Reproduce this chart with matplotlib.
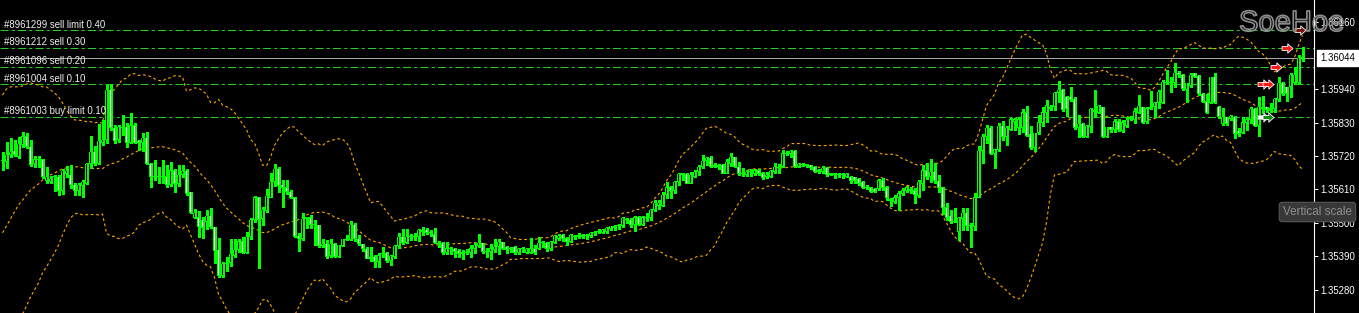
import numpy as np
import pandas as pd
import matplotlib
matplotlib.use("Agg")
import matplotlib.pyplot as plt
from matplotlib.patches import Rectangle
from matplotlib.collections import PatchCollection
from matplotlib.path import Path
import matplotlib.patheffects as pe
import matplotlib.transforms as mtransforms

plt.rcParams['font.family'] = ['Liberation Sans', 'DejaVu Sans']
plt.rcParams['lines.scale_dashes'] = False

# ---------------- data (candles) ----------------
opens = [
1.35704,1.35701,1.35724,1.35737,1.35720,1.35757,1.35786,1.35750,1.35694,1.35707,
1.35710,1.35638,1.35635,1.35651,1.35651,1.35605,1.35661,1.35658,1.35625,1.35608,
1.35622,1.35631,1.35697,1.35734,1.35697,1.35766,1.35773,1.35938,1.35813,1.35773,
1.35816,1.35816,1.35763,1.35822,1.35770,1.35763,1.35780,1.35694,1.35654,1.35651,
1.35654,1.35654,1.35625,1.35674,1.35628,1.35658,1.35671,1.35602,1.35519,1.35519,
1.35510,1.35506,1.35523,1.35487,1.35411,1.35328,1.35365,1.35368,1.35394,1.35411,
1.35440,1.35401,1.35454,1.35510,1.35585,1.35513,1.35539,1.35585,1.35635,1.35678,
1.35625,1.35618,1.35602,1.35585,1.35457,1.35447,1.35513,1.35519,1.35496,1.35493,
1.35424,1.35431,1.35391,1.35431,1.35388,1.35424,1.35444,1.35444,1.35493,1.35447,
1.35431,1.35414,1.35388,1.35388,1.35371,1.35398,1.35401,1.35375,1.35388,1.35424,
1.35454,1.35434,1.35454,1.35454,1.35454,1.35473,1.35477,1.35467,1.35463,1.35434,
1.35434,1.35401,1.35417,1.35414,1.35408,1.35398,1.35401,1.35401,1.35414,1.35424,
1.35434,1.35408,1.35404,1.35411,1.35421,1.35437,1.35421,1.35414,1.35421,1.35401,
1.35414,1.35401,1.35401,1.35414,1.35417,1.35434,1.35434,1.35414,1.35434,1.35450,
1.35460,1.35450,1.35440,1.35454,1.35454,1.35454,1.35457,1.35457,1.35467,1.35470,
1.35467,1.35473,1.35480,1.35487,1.35490,1.35490,1.35510,1.35510,1.35493,1.35519,
1.35493,1.35516,1.35516,1.35543,1.35556,1.35556,1.35592,1.35618,1.35608,1.35635,
1.35658,1.35661,1.35631,1.35654,1.35668,1.35684,1.35704,1.35714,1.35687,1.35687,
1.35691,1.35664,1.35697,1.35717,1.35684,1.35664,1.35658,1.35668,1.35664,1.35674,
1.35664,1.35651,1.35651,1.35668,1.35681,1.35684,1.35727,1.35727,1.35737,1.35687,
1.35691,1.35691,1.35691,1.35684,1.35671,1.35668,1.35681,1.35661,1.35661,1.35658,
1.35658,1.35651,1.35651,1.35651,1.35645,1.35635,1.35618,1.35618,1.35612,1.35612,
1.35641,1.35618,1.35575,1.35569,1.35585,1.35595,1.35605,1.35608,1.35608,1.35589,
1.35631,1.35674,1.35651,1.35668,1.35638,1.35618,1.35552,1.35523,1.35503,1.35473,
1.35513,1.35533,1.35490,1.35487,1.35585,1.35737,1.35783,1.35813,1.35730,1.35740,
1.35819,1.35783,1.35809,1.35835,1.35813,1.35813,1.35865,1.35793,1.35747,1.35796,
1.35829,1.35862,1.35878,1.35882,1.35928,1.35938,1.35915,1.35915,1.35908,1.35813,
1.35826,1.35783,1.35816,1.35868,1.35865,1.35882,1.35783,1.35816,1.35806,1.35835,
1.35803,1.35822,1.35845,1.35839,1.35865,1.35882,1.35835,1.35878,1.35882,1.35895,
1.35895,1.35961,1.35961,1.35961,1.35994,1.35987,1.35938,1.35954,1.35994,1.35984,
1.35925,1.35901,1.35898,1.35981,1.35882,1.35826,1.35849,1.35845,1.35849,1.35803,
1.35799,1.35829,1.35839,1.35875,1.35822,1.35878,1.35882,1.35872,1.35878,1.35905,
1.35961,1.35948,1.35948,1.35961,1.35961,1.36043]
highs = [
1.35734,1.35766,1.35780,1.35773,1.35783,1.35799,1.35796,1.35773,1.35720,1.35720,
1.35710,1.35684,1.35654,1.35658,1.35658,1.35678,1.35687,1.35691,1.35631,1.35631,
1.35641,1.35697,1.35786,1.35753,1.35826,1.35839,1.35954,1.35957,1.35822,1.35822,
1.35855,1.35829,1.35862,1.35829,1.35773,1.35796,1.35799,1.35697,1.35707,1.35684,
1.35707,1.35691,1.35701,1.35678,1.35691,1.35691,1.35678,1.35602,1.35546,1.35539,
1.35519,1.35543,1.35549,1.35487,1.35450,1.35371,1.35388,1.35447,1.35447,1.35447,
1.35454,1.35470,1.35516,1.35589,1.35585,1.35552,1.35612,1.35664,1.35694,1.35684,
1.35641,1.35641,1.35608,1.35585,1.35467,1.35533,1.35519,1.35526,1.35510,1.35493,
1.35447,1.35444,1.35447,1.35434,1.35427,1.35447,1.35460,1.35506,1.35500,1.35460,
1.35431,1.35421,1.35421,1.35394,1.35401,1.35421,1.35404,1.35394,1.35427,1.35467,
1.35480,1.35480,1.35463,1.35467,1.35480,1.35487,1.35483,1.35477,1.35483,1.35440,
1.35437,1.35437,1.35421,1.35417,1.35414,1.35411,1.35414,1.35427,1.35434,1.35463,
1.35434,1.35417,1.35431,1.35447,1.35447,1.35437,1.35424,1.35421,1.35424,1.35417,
1.35421,1.35417,1.35450,1.35427,1.35454,1.35440,1.35437,1.35440,1.35460,1.35463,
1.35463,1.35454,1.35463,1.35460,1.35467,1.35463,1.35463,1.35470,1.35473,1.35480,
1.35480,1.35487,1.35490,1.35493,1.35496,1.35519,1.35516,1.35516,1.35523,1.35523,
1.35523,1.35533,1.35546,1.35575,1.35575,1.35602,1.35635,1.35622,1.35638,1.35664,
1.35664,1.35664,1.35668,1.35674,1.35691,1.35724,1.35717,1.35720,1.35697,1.35694,
1.35694,1.35710,1.35730,1.35717,1.35701,1.35681,1.35674,1.35678,1.35678,1.35678,
1.35668,1.35668,1.35674,1.35697,1.35694,1.35740,1.35737,1.35740,1.35740,1.35697,
1.35697,1.35694,1.35691,1.35687,1.35678,1.35687,1.35684,1.35664,1.35664,1.35664,
1.35664,1.35664,1.35654,1.35651,1.35648,1.35638,1.35625,1.35618,1.35615,1.35645,
1.35648,1.35622,1.35582,1.35592,1.35605,1.35615,1.35622,1.35618,1.35615,1.35641,
1.35691,1.35697,1.35710,1.35697,1.35658,1.35618,1.35566,1.35543,1.35549,1.35519,
1.35549,1.35549,1.35500,1.35598,1.35753,1.35793,1.35822,1.35819,1.35743,1.35829,
1.35835,1.35819,1.35845,1.35845,1.35849,1.35875,1.35885,1.35819,1.35796,1.35855,
1.35882,1.35905,1.35888,1.35931,1.35967,1.35941,1.35918,1.35948,1.35915,1.35855,
1.35829,1.35822,1.35878,1.35938,1.35888,1.35882,1.35816,1.35816,1.35842,1.35842,
1.35839,1.35849,1.35852,1.35878,1.35921,1.35882,1.35882,1.35934,1.35898,1.35938,
1.35971,1.36004,1.35981,1.36027,1.36000,1.35990,1.35961,1.35994,1.35994,1.35987,
1.35928,1.35925,1.35981,1.35994,1.35885,1.35878,1.35849,1.35855,1.35852,1.35813,
1.35849,1.35845,1.35882,1.35878,1.35915,1.35918,1.35882,1.35895,1.35911,1.35981,
1.35964,1.35948,1.35994,1.36014,1.36053,1.36079]
lows = [
1.35674,1.35681,1.35717,1.35720,1.35714,1.35750,1.35747,1.35687,1.35684,1.35684,
1.35648,1.35631,1.35631,1.35605,1.35592,1.35595,1.35651,1.35615,1.35592,1.35592,
1.35585,1.35628,1.35681,1.35691,1.35694,1.35757,1.35763,1.35806,1.35763,1.35766,
1.35789,1.35750,1.35763,1.35763,1.35740,1.35737,1.35694,1.35618,1.35641,1.35631,
1.35631,1.35618,1.35622,1.35602,1.35622,1.35651,1.35592,1.35533,1.35516,1.35454,
1.35450,1.35480,1.35483,1.35368,1.35322,1.35322,1.35342,1.35358,1.35388,1.35404,
1.35401,1.35401,1.35447,1.35503,1.35352,1.35493,1.35536,1.35585,1.35622,1.35602,
1.35552,1.35595,1.35582,1.35454,1.35408,1.35444,1.35483,1.35483,1.35427,1.35421,
1.35421,1.35384,1.35388,1.35388,1.35388,1.35424,1.35444,1.35444,1.35440,1.35427,
1.35408,1.35384,1.35375,1.35355,1.35355,1.35388,1.35371,1.35361,1.35384,1.35417,
1.35431,1.35434,1.35444,1.35444,1.35440,1.35460,1.35463,1.35457,1.35434,1.35421,
1.35398,1.35398,1.35398,1.35388,1.35388,1.35381,1.35398,1.35388,1.35401,1.35421,
1.35401,1.35388,1.35381,1.35404,1.35398,1.35414,1.35401,1.35404,1.35398,1.35398,
1.35404,1.35401,1.35401,1.35398,1.35414,1.35421,1.35408,1.35411,1.35434,1.35444,
1.35440,1.35427,1.35437,1.35447,1.35450,1.35450,1.35447,1.35454,1.35460,1.35467,
1.35467,1.35467,1.35477,1.35477,1.35480,1.35487,1.35500,1.35487,1.35473,1.35493,
1.35493,1.35506,1.35510,1.35539,1.35546,1.35556,1.35582,1.35582,1.35598,1.35625,
1.35641,1.35631,1.35631,1.35651,1.35658,1.35681,1.35691,1.35684,1.35684,1.35678,
1.35664,1.35664,1.35687,1.35684,1.35658,1.35654,1.35654,1.35654,1.35658,1.35658,
1.35645,1.35648,1.35651,1.35664,1.35664,1.35684,1.35724,1.35717,1.35684,1.35684,
1.35687,1.35684,1.35678,1.35668,1.35664,1.35664,1.35654,1.35658,1.35648,1.35651,
1.35648,1.35651,1.35631,1.35631,1.35625,1.35615,1.35612,1.35602,1.35602,1.35608,
1.35608,1.35575,1.35556,1.35566,1.35543,1.35592,1.35602,1.35598,1.35566,1.35585,
1.35608,1.35645,1.35635,1.35631,1.35602,1.35529,1.35510,1.35500,1.35503,1.35444,
1.35477,1.35477,1.35421,1.35477,1.35585,1.35697,1.35763,1.35727,1.35681,1.35737,
1.35773,1.35757,1.35806,1.35806,1.35793,1.35799,1.35786,1.35743,1.35737,1.35793,
1.35819,1.35832,1.35872,1.35872,1.35898,1.35868,1.35852,1.35901,1.35809,1.35783,
1.35783,1.35783,1.35799,1.35849,1.35862,1.35783,1.35783,1.35799,1.35799,1.35803,
1.35799,1.35816,1.35839,1.35829,1.35862,1.35829,1.35829,1.35875,1.35849,1.35878,
1.35895,1.35958,1.35931,1.35948,1.35981,1.35938,1.35898,1.35948,1.35981,1.35921,
1.35898,1.35862,1.35895,1.35895,1.35845,1.35822,1.35822,1.35839,1.35780,1.35786,
1.35796,1.35806,1.35829,1.35819,1.35786,1.35862,1.35865,1.35865,1.35865,1.35901,
1.35921,1.35901,1.35915,1.35958,1.35958,1.36033]
closes = [
1.35707,1.35724,1.35734,1.35724,1.35760,1.35786,1.35750,1.35691,1.35710,1.35710,
1.35651,1.35651,1.35645,1.35654,1.35605,1.35671,1.35671,1.35625,1.35608,1.35625,
1.35635,1.35694,1.35734,1.35697,1.35770,1.35773,1.35938,1.35813,1.35770,1.35816,
1.35813,1.35766,1.35822,1.35766,1.35763,1.35780,1.35697,1.35651,1.35651,1.35654,
1.35651,1.35625,1.35674,1.35628,1.35658,1.35671,1.35598,1.35533,1.35533,1.35487,
1.35483,1.35523,1.35487,1.35408,1.35328,1.35365,1.35368,1.35398,1.35411,1.35440,
1.35401,1.35454,1.35510,1.35585,1.35510,1.35543,1.35589,1.35635,1.35678,1.35622,
1.35618,1.35602,1.35585,1.35454,1.35447,1.35513,1.35519,1.35496,1.35493,1.35424,
1.35431,1.35388,1.35431,1.35388,1.35427,1.35447,1.35447,1.35493,1.35447,1.35431,
1.35414,1.35384,1.35384,1.35371,1.35394,1.35401,1.35375,1.35391,1.35424,1.35454,
1.35434,1.35454,1.35454,1.35457,1.35477,1.35477,1.35467,1.35470,1.35434,1.35431,
1.35401,1.35417,1.35414,1.35404,1.35398,1.35404,1.35401,1.35417,1.35427,1.35434,
1.35404,1.35404,1.35417,1.35421,1.35437,1.35417,1.35411,1.35417,1.35401,1.35414,
1.35417,1.35414,1.35417,1.35401,1.35434,1.35437,1.35414,1.35437,1.35457,1.35457,
1.35447,1.35437,1.35460,1.35457,1.35460,1.35460,1.35460,1.35467,1.35470,1.35473,
1.35477,1.35483,1.35490,1.35486,1.35493,1.35516,1.35513,1.35493,1.35519,1.35493,
1.35519,1.35519,1.35543,1.35566,1.35566,1.35592,1.35618,1.35608,1.35635,1.35661,
1.35664,1.35631,1.35658,1.35668,1.35684,1.35704,1.35714,1.35687,1.35691,1.35691,
1.35664,1.35701,1.35717,1.35684,1.35661,1.35661,1.35668,1.35671,1.35674,1.35661,
1.35648,1.35658,1.35671,1.35684,1.35684,1.35730,1.35730,1.35737,1.35684,1.35694,
1.35694,1.35690,1.35681,1.35668,1.35670,1.35681,1.35658,1.35660,1.35660,1.35661,
1.35661,1.35661,1.35641,1.35641,1.35631,1.35618,1.35615,1.35602,1.35602,1.35641,
1.35615,1.35582,1.35579,1.35585,1.35598,1.35608,1.35618,1.35612,1.35592,1.35635,
1.35674,1.35651,1.35668,1.35638,1.35618,1.35549,1.35519,1.35503,1.35506,1.35516,
1.35533,1.35490,1.35493,1.35585,1.35737,1.35783,1.35813,1.35730,1.35743,1.35819,
1.35783,1.35813,1.35842,1.35842,1.35842,1.35865,1.35789,1.35747,1.35796,1.35832,
1.35865,1.35888,1.35882,1.35928,1.35938,1.35872,1.35875,1.35905,1.35813,1.35826,
1.35786,1.35819,1.35875,1.35872,1.35885,1.35783,1.35816,1.35806,1.35835,1.35806,
1.35832,1.35839,1.35849,1.35868,1.35885,1.35832,1.35878,1.35882,1.35895,1.35931,
1.35965,1.35965,1.35965,1.35994,1.35987,1.35944,1.35961,1.35987,1.35981,1.35925,
1.35901,1.35865,1.35981,1.35898,1.35849,1.35849,1.35826,1.35852,1.35793,1.35793,
1.35832,1.35842,1.35875,1.35822,1.35882,1.35882,1.35872,1.35878,1.35908,1.35961,
1.35925,1.35925,1.35987,1.35987,1.36043,1.36044]

# Bollinger band values on the first bars (their 20-bar history lies left of the chart)
bb_upper_start = [1.35921,1.35941,1.35948,1.35948,1.35948,1.35951,1.35957,1.35961,1.35957,1.35954,
                  1.35948,1.35948,1.35938,1.35928,1.35915,1.35895,1.35872,1.35852,1.35839]
bb_mid_start   = [1.35467,1.35490,1.35513,1.35536,1.35559,1.35575,1.35592,1.35608,1.35618,1.35628,
                  1.35641,1.35651,1.35658,1.35664,1.35671,1.35678,1.35681,1.35684,1.35684]
bb_lower_start = [1.35012,1.35039,1.35078,1.35124,1.35170,1.35200,1.35226,1.35256,1.35279,1.35302,
                  1.35335,1.35355,1.35378,1.35401,1.35427,1.35460,1.35490,1.35516,1.35529]
bb_period = 20
bb_dev = 3.0

price_ticks = [1.35280, 1.35390, 1.35500, 1.35610, 1.35720, 1.35830, 1.35940, 1.36160]
current_price = 1.36044

order_labels = ["#8961299 sell limit 0.40", "#8961212 sell 0.30", "#8961096 sell 0.20",
                "#8961004 sell 0.10", "#8961003 buy limit 0.10"]
order_prices = [1.36134, 1.36075, 1.36014, 1.35956, 1.35849]

arrow_bars   = [324.4, 321.2, 318.4, 315.0, 316.4, 315.0, 316.4]
arrow_prices = [1.36134, 1.36075, 1.36014, 1.35956, 1.35956, 1.35849, 1.35849]
arrow_colors = ['#7a1010', '#ff1a1a', '#ff1a1a', '#ff1a1a', '#ff1a1a', '#ffffff', '#0a8a0a']

# ---------------- figure ----------------
W, H = 1359, 313
fig = plt.figure(figsize=(W / 100, H / 100), dpi=100)
fig.patch.set_facecolor('black')
plot_w = 1314
ax = fig.add_axes([0, 0, plot_w / W, 1])
ax.set_facecolor('black')
PX = 0.25                       # one pixel in bar units (4 px per bar)
ax.set_xlim(-2.5 * PX, (plot_w - 2.5) * PX)
y0, y1 = 1.35203, 1.36234
ax.set_ylim(y0, y1)
PY = (y1 - y0) / H              # one pixel in price units

for s in ['left', 'top', 'bottom']:
    ax.spines[s].set_visible(False)
ax.spines['right'].set_color('white')
ax.spines['right'].set_linewidth(0.8)
ax.set_xticks([])
ax.yaxis.tick_right()
ax.set_yticks(price_ticks)
ax.set_yticklabels([f"{p:.5f}" for p in price_ticks])
ax.tick_params(axis='y', colors='white', labelcolor='white', length=3, width=0.75,
               pad=1.6, labelsize=6.9)

LIME = '#00ff00'
n = len(closes)
x = np.arange(n)
o = np.array(opens); h = np.array(highs); l = np.array(lows); c = np.array(closes)

# Bollinger bands (20, 3) from the closes
cs = pd.Series(c)
mid = cs.rolling(bb_period).mean().to_numpy()
sd = cs.rolling(bb_period).std(ddof=0).to_numpy()
upper = mid + bb_dev * sd
lower = mid - bb_dev * sd
k0 = len(bb_mid_start)
upper[:k0] = bb_upper_start
mid[:k0] = bb_mid_start
lower[:k0] = bb_lower_start
for band in (upper, mid, lower):
    ax.plot(x, band, color='#ffa500', lw=0.8, dashes=(2.0, 1.9), zorder=2)

# order lines and bid line (snapped to whole pixels)
for p in order_prices:
    ax.axhline(p, color='#22d022', lw=0.75, dashes=(5.8, 2.3, 2.2, 2.3), zorder=1,
               snap=True)
ax.axhline(current_price, color='#a8a8a8', lw=0.72, zorder=1, snap=True)

# candles: wick, 3-px green body, 1-px inner fill
ax.vlines(x, l, h, color=LIME, lw=0.75, zorder=3, antialiased=False)
outer, inner, inner_col = [], [], []
for i in range(n):
    bottom = min(o[i], c[i]); top = max(o[i], c[i])
    hgt = max(top - bottom, PY)
    outer.append(Rectangle((i - 1.5 * PX, bottom - 0.5 * PY), 3 * PX, hgt + 0.5 * PY))
    if top - bottom > 2 * PY:
        inner.append(Rectangle((i - 0.5 * PX, bottom + 0.5 * PY), PX, top - bottom - PY))
        inner_col.append('black' if c[i] > o[i] else 'white')
ax.add_collection(PatchCollection(outer, facecolor=LIME, edgecolor='none', zorder=4,
                                  antialiased=False))
ax.add_collection(PatchCollection(inner, facecolor=inner_col, edgecolor='none', zorder=5,
                                  antialiased=False))

# order labels
tr = mtransforms.blended_transform_factory(ax.transAxes, ax.transData)
tr_off = mtransforms.offset_copy(tr, fig=fig, x=0, y=2.0, units='points')
for lab, p in zip(order_labels, order_prices):
    ax.text(4 / plot_w, p, lab, transform=tr_off, color='#f0f0f0', fontsize=6.9,
            va='baseline', ha='left', zorder=6)

# trade arrows
arrow_path = Path([(-1, -0.35), (0.05, -0.35), (0.05, -0.85), (1, 0), (0.05, 0.85),
                   (0.05, 0.35), (-1, 0.35), (-1, -0.35)],
                  [Path.MOVETO] + [Path.LINETO] * 6 + [Path.CLOSEPOLY])
for xb, pb, col in zip(arrow_bars, arrow_prices, arrow_colors):
    ec = 'white' if col != '#ffffff' else '#bbbbbb'
    ax.scatter([xb], [pb], marker=arrow_path, s=62, c=col, edgecolors=ec,
               linewidths=0.6, zorder=7)

# current price box on the axis
ydisp = ax.transData.transform((0, current_price))[1]
fig.text(1320 / W, ydisp / H, f"{current_price:.5f}", color='black', fontsize=6.9,
         va='center', ha='left',
         bbox=dict(boxstyle='square,pad=0.3', facecolor='white', edgecolor='white'))

# watermark (outlined, see-through)
fig.text(1239 / W, 1 - 23 / H, "SoeHoe", fontsize=21, color=(0, 0, 0, 0), va='center',
         ha='left', zorder=10,
         path_effects=[pe.withStroke(linewidth=1.2, foreground='#8c8c8c')])

# tooltip
fig.text(1283 / W, 1 - 212 / H, "Vertical scale", fontsize=8.4, color='#8e8e8e',
         va='center', ha='left', zorder=10,
         bbox=dict(boxstyle='round,pad=0.32,rounding_size=0.25', facecolor='#383838',
                   edgecolor='#555555', lw=0.8))

fig.savefig('out.png', dpi=100, facecolor='black')
